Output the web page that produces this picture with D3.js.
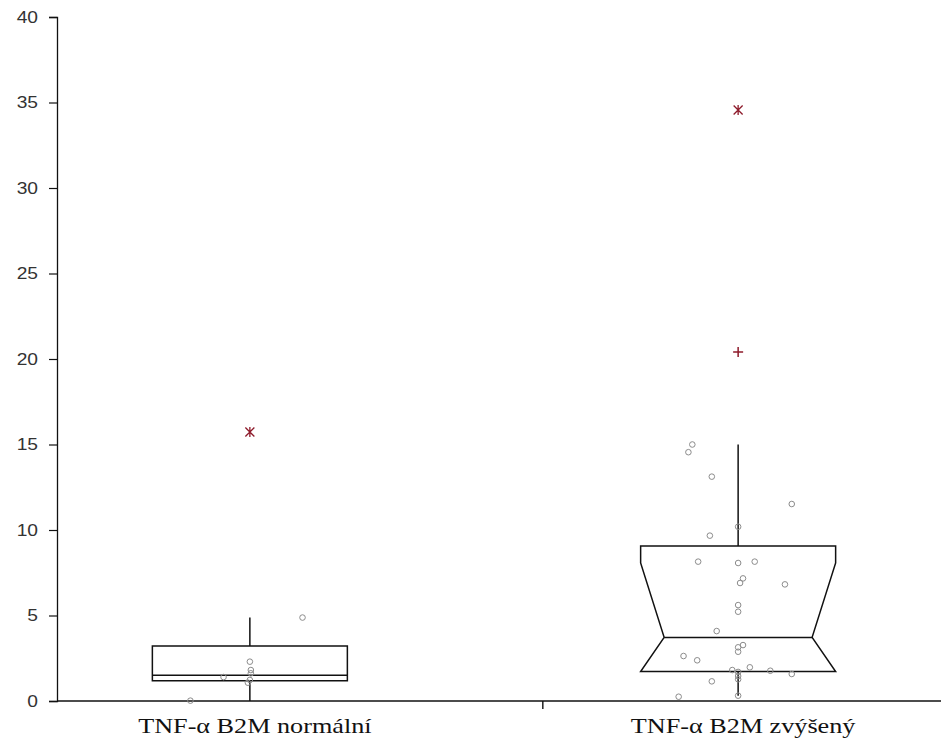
<!DOCTYPE html>
<html>
<head>
<meta charset="utf-8">
<script src="https://cdn.jsdelivr.net/npm/d3@7"></script>
<style>
  html, body { margin: 0; padding: 0; background: #fff; }
  svg { display: block; }
</style>
</head>
<body>
<svg id="chart" width="943" height="745"></svg>
<script>
// Box-plot summaries per group
const categories = ["TNF-α B2M normální", "TNF-α B2M zvýšený"];
const q1 = [1.19, 1.72];
const median = [1.50, 3.72];
const q3 = [3.22, 9.07];
const whiskerLow = [0.0, 0.31];
const whiskerHigh = [4.88, 15.0];
const notchLow = [null, 1.72];
const notchHigh = [null, 8.07];

// Outliers: mild (+) and extreme (*)
const mildOutliers = [[], [20.41]];
const extremeOutliers = [[15.73], [34.56]];

// Individual observations, with horizontal jitter (fraction of half box width)
const valuesNormal = [4.88, 2.30, 1.81, 1.62, 1.23, 1.07, 1.40, 0.02];
const jitterNormal = [0.54, 0.0, 0.01, 0.01, 0.0, -0.02, -0.27, -0.61];
const valuesRaised = [15.0, 14.55, 13.12, 11.52, 10.19, 9.67, 8.15, 8.07, 8.15, 7.17,
  6.90, 6.82, 5.61, 5.22, 4.09, 3.27, 3.14, 2.88, 2.63, 2.38,
  1.81, 1.70, 1.97, 1.77, 1.58, 1.46, 1.27, 1.15, 0.25, 0.31];
const jitterRaised = [-0.47, -0.51, -0.27, 0.55, 0.0, -0.29, -0.41, 0.0, 0.17, 0.05,
  0.02, 0.48, 0.0, 0.0, -0.22, 0.05, 0.0, 0.0, -0.56, -0.42,
  -0.06, 0.0, 0.12, 0.33, 0.55, 0.0, 0.0, -0.27, -0.61, 0.0];
const pointValues = [valuesNormal, valuesRaised];
const pointJitter = [jitterNormal, jitterRaised];

const yTicks = [0, 5, 10, 15, 20, 25, 30, 35, 40];
const xDividers = [1.6];

const svg = d3.select("#chart");
const plotLeft = 57, plotRight = 931, axisEnd = 941, plotTop = 17, plotBottom = 701;

const y = d3.scaleLinear().domain([0, 40]).range([plotBottom, plotTop]);
const x = d3.scalePoint().domain(categories).range([plotLeft, plotRight]).padding(0.395);
const xIdx = d3.scaleLinear().domain([1, 2]).range([x(categories[0]), x(categories[1])]);
const halfBox = 97.5;
const notchIndent = 23.5;
const markColor = "#8e1b2b";

// Y axis
const yAxis = d3.axisLeft(y).tickValues(yTicks).tickSize(8).tickPadding(11).tickFormat(d3.format("d"));
const gy = svg.append("g").attr("transform", `translate(${plotLeft},0)`).call(yAxis);
gy.select(".domain").attr("stroke", "#111").attr("stroke-width", 1.3);
gy.selectAll(".tick line").attr("stroke", "#111").attr("stroke-width", 1.2);
gy.selectAll(".tick text")
  .attr("fill", "#333")
  .style("font-family", "'Liberation Sans', Arial, sans-serif")
  .style("font-size", "16px");
gy.selectAll(".tick text").each(function() {
  const w = this.getComputedTextLength();
  d3.select(this).attr("textLength", w * 1.2).attr("lengthAdjust", "spacingAndGlyphs");
});

// X axis line and category divider
svg.append("line")
  .attr("x1", plotLeft).attr("x2", axisEnd).attr("y1", plotBottom).attr("y2", plotBottom)
  .attr("stroke", "#111").attr("stroke-width", 1.4);
svg.selectAll("line.divider").data(xDividers).join("line")
  .attr("class", "divider")
  .attr("x1", d => xIdx(d)).attr("x2", d => xIdx(d))
  .attr("y1", plotBottom).attr("y2", plotBottom + 8)
  .attr("stroke", "#111").attr("stroke-width", 1.4);

// Category labels
svg.selectAll("text.cat").data(categories).join("text")
  .attr("class", "cat")
  .attr("x", d => x(d) + 5)
  .attr("y", plotBottom + 32)
  .attr("text-anchor", "middle")
  .attr("fill", "#111")
  .style("font-family", "'Liberation Serif', 'Times New Roman', serif")
  .style("font-size", "22px")
  .text(d => d)
  .each(function() {
    const w = this.getComputedTextLength();
    d3.select(this).attr("textLength", w * 1.19).attr("lengthAdjust", "spacingAndGlyphs");
  });

// Boxes
categories.forEach((c, i) => {
  const cx = x(c);
  const L = cx - halfBox, R = cx + halfBox;
  const g = svg.append("g");
  // whiskers
  g.append("line").attr("x1", cx).attr("x2", cx)
    .attr("y1", y(q3[i])).attr("y2", y(whiskerHigh[i]))
    .attr("stroke", "#111").attr("stroke-width", 1.5);
  g.append("line").attr("x1", cx).attr("x2", cx)
    .attr("y1", y(q1[i])).attr("y2", y(whiskerLow[i]))
    .attr("stroke", "#111").attr("stroke-width", 1.5);

  let pts;
  if (notchLow[i] !== null) {
    pts = [[L, y(q3[i])], [L, y(notchHigh[i])], [L + notchIndent, y(median[i])], [L, y(notchLow[i])],
           [L, y(q1[i])], [R, y(q1[i])], [R, y(notchLow[i])], [R - notchIndent, y(median[i])],
           [R, y(notchHigh[i])], [R, y(q3[i])]];
    g.append("line").attr("x1", L + notchIndent).attr("x2", R - notchIndent)
      .attr("y1", y(median[i])).attr("y2", y(median[i]))
      .attr("stroke", "#111").attr("stroke-width", 1.5);
  } else {
    pts = [[L, y(q3[i])], [L, y(q1[i])], [R, y(q1[i])], [R, y(q3[i])]];
    g.append("line").attr("x1", L).attr("x2", R)
      .attr("y1", y(median[i])).attr("y2", y(median[i]))
      .attr("stroke", "#111").attr("stroke-width", 1.5);
  }
  g.insert("path", ":first-child")
    .attr("d", d3.line()(pts) + "Z")
    .attr("fill", "none").attr("stroke", "#111").attr("stroke-width", 1.5)
    .attr("stroke-linejoin", "miter");

  // observations
  g.selectAll("circle").data(pointValues[i].map((v, k) => [v, pointJitter[i][k]])).join("circle")
    .attr("cx", d => cx + d[1] * halfBox)
    .attr("cy", d => y(d[0]))
    .attr("r", 2.8)
    .attr("fill", "none")
    .attr("stroke", "#8c8c8c")
    .attr("stroke-width", 1);

  // mild outliers
  g.selectAll("path.mild").data(mildOutliers[i]).join("path")
    .attr("class", "mild")
    .attr("transform", d => `translate(${cx},${y(d)})`)
    .attr("d", "M-5,0H5M0,-5V5")
    .attr("stroke", markColor).attr("stroke-width", 1.5).attr("fill", "none");

  // extreme outliers
  g.selectAll("path.extreme").data(extremeOutliers[i]).join("path")
    .attr("class", "extreme")
    .attr("transform", d => `translate(${cx},${y(d)})`)
    .attr("d", "M-4.5,-4.5L4.5,4.5M-4.5,4.5L4.5,-4.5M0,-5V5")
    .attr("stroke", markColor).attr("stroke-width", 1.3).attr("fill", "none");
});
</script>
</body>
</html>
